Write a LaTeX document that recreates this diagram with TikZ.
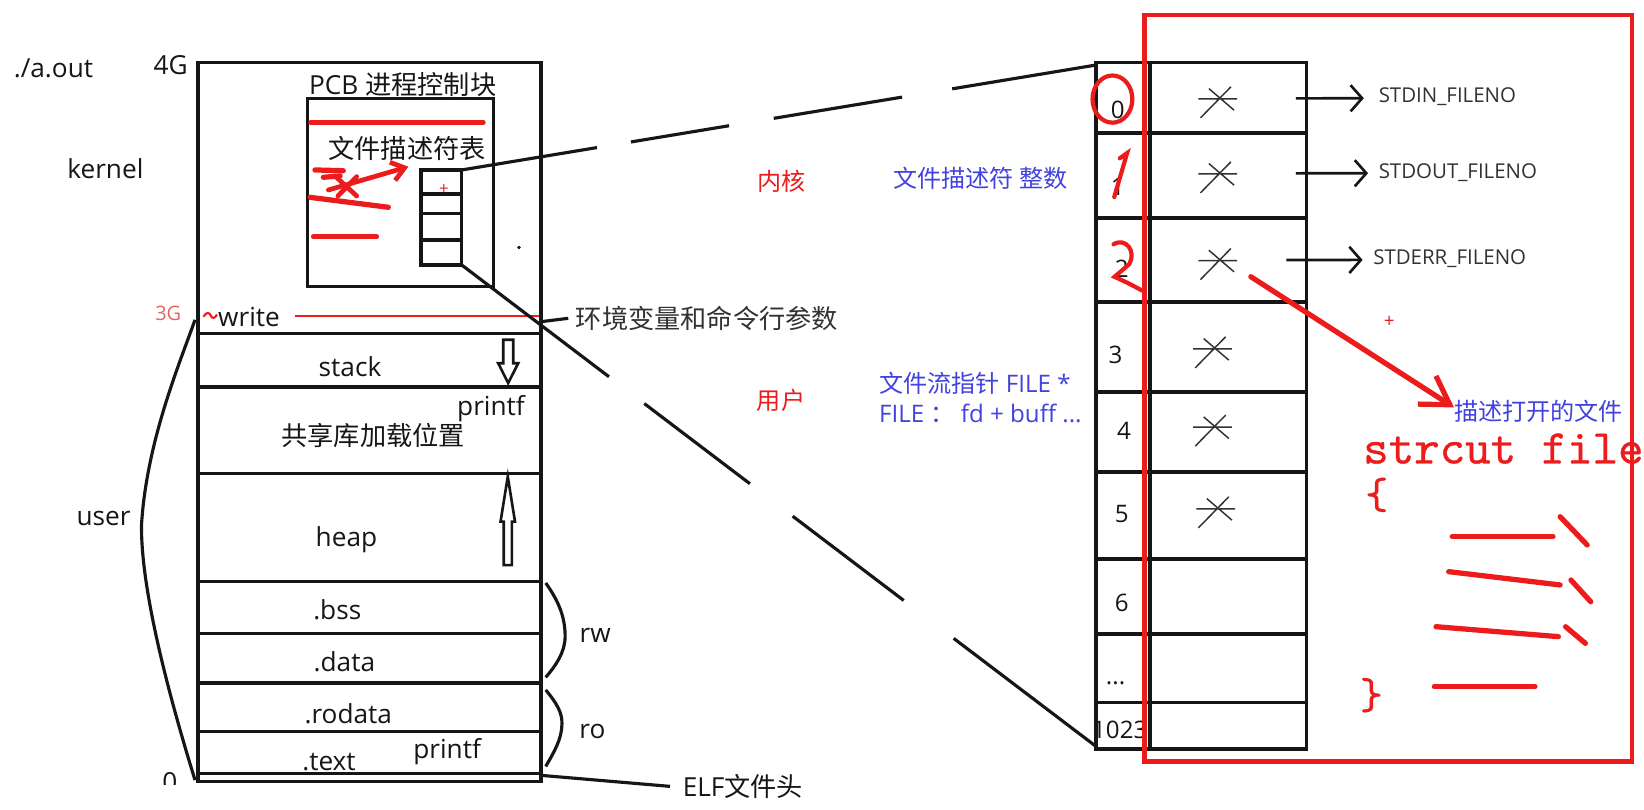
\documentclass[tikz,border=0pt]{standalone}
\usepackage{fontspec}
\setmainfont{Open Sans}
\newfontfamily\cjk{Noto Sans CJK SC}
\newfontfamily\mono[FakeBold=0.7]{lmmono10-regular.otf}
\usetikzlibrary{arrows.meta}
\definecolor{myred}{RGB}{236,28,28}
\definecolor{myblue}{RGB}{66,66,222}
\definecolor{lightred}{RGB}{228,100,100}
\definecolor{ink}{RGB}{22,22,22}
\definecolor{gray3}{RGB}{50,50,50}
\tikzset{
  lbl/.style={inner sep=0pt, text=ink, font=\fontsize{25}{28}\selectfont},
  clbl/.style={inner sep=0pt, text=ink, font=\cjk\fontsize{25}{28}\selectfont},
  ann/.style={inner sep=0pt, font=\fontsize{23}{26}\selectfont},
  cann/.style={inner sep=0pt, font=\cjk\fontsize{23}{26}\selectfont},
  stdlbl/.style={inner sep=0pt, text=gray3, font=\fontsize{19.5}{22}\selectfont, anchor=west},
  box/.style={draw=ink, line width=3.2pt},
  fdbox/.style={draw=ink, line width=3.6pt},
  conn/.style={draw=ink, line width=3pt},
  redline/.style={draw=myred, line width=5pt, line cap=round},
  stdarrow/.style={draw=ink, line width=2.5pt, -{Straight Barb[length=11pt,width=25pt]}},
  redarrow/.style={draw=myred, line width=5pt, line cap=round, -{Straight Barb[length=26pt,width=32pt]}},
  fdstar/.pic={\draw[line width=1.4pt, draw=gray3] (-19,0.5) -- (18,0.5) (-17,18.6) -- (12,-11) (-9,-9.3) -- (15,11.3);},
  hollow/.style={draw=ink, line width=2.5pt, fill=white}
}
\begin{document}
\begin{tikzpicture}[x=1pt,y=-1pt]
\useasboundingbox[fill=white] (0,0) rectangle (1568,772);

% ---------------- left: memory layout ----------------
\node[box, inner sep=0pt, outer sep=0pt, minimum width=327pt, minimum height=686pt, anchor=north west] (mem) at (189,59.5) {};
\foreach \yy in {318,369,451.5,554.5,604.5,651.5,697.5,737.6}
  \draw[box] (189,\yy) -- (516,\yy);

\node[lbl] (aout) at (51,65.2) {./a.out};
\node[lbl] (g4) at (162.8,62) {4G};
\node[lbl] (kernel) at (100.5,160.5) {kernel};
\node[inner sep=0pt, text=lightred, font=\fontsize{19}{22}\selectfont] (g3) at (160.5,299) {3G};
\node[lbl] (user) at (98.8,494.4) {user};
\begin{scope}
  \clip (140,725) rectangle (185,748);
  \node[lbl] (zero) at (162,746) {0};
\end{scope}

% user bracket curve
\draw[conn] (186,305) .. controls (172,345) and (140,420) .. (135,500) .. controls (134,560) and (160,660) .. (186,744);

% PCB
\node[lbl, anchor=west] (pcb) at (294.6,81) {PCB {\cjk 进程控制块}};
\draw[box] (293,93.8) rectangle (470.5,273.4);
\draw[redline, line width=4.5pt] (296.3,116.7) -- (461,116.7);
\node[clbl, anchor=west] (fdt) at (313,141.5) {文件描述符表};
% red scribble
\draw[redline] (300.4,162.1) -- (327.4,162.8);
\draw[redline] (308.4,169.1) -- (324.3,167.8);
\draw[redline, line width=4.5pt] (319.5,167.8) -- (340.2,186.9) (322.3,186.9) -- (340.2,168.5);
\draw[redline, line width=4.5pt, -{Straight Barb[length=12pt,width=18pt]}] (313.2,181.2) -- (389.5,159);
\draw[redline] (295.7,188.2) -- (370.4,197.7);
\draw[redline, line width=4.5pt] (298.8,225.7) -- (359.3,225.7);

% small fd table in PCB
\node[box, inner sep=0pt, outer sep=0pt, minimum width=38.8pt, minimum height=90.6pt, anchor=north west] (tbl) at (401.5,162.1) {};
\draw[box] (401.5,185) -- (440.3,185) (401.5,203.5) -- (440.3,203.5) (401.5,229) -- (440.3,229);
\node[inner sep=0pt, text=myred, font=\fontsize{16}{18}\selectfont] (plus1) at (423.5,181) {+};
\fill[ink] (495,236) circle (1.8pt);

% write / env line
\draw[myred, line width=2pt] (194,302) .. controls (197,297) and (200,298) .. (201,301) .. controls (202,304) and (205,304) .. (207,300);
\node[lbl] (write) at (237.5,302) {write};
\draw[myred, line width=2.5pt] (281,301.4) -- (514,301.4);
\node[clbl, anchor=west, text=gray3] (env) at (549,303.6) {环境变量和命令行参数};
\draw[conn] (516,306.8) -- ([xshift=-7pt]env.west);

% segments
\node[lbl] (stack) at (333.8,349.7) {stack};
\draw[hollow] (480,324) -- (489.5,324) -- (489.5,346.5) -- (494.2,346.5) -- (484.7,365.4) -- (475.2,346.5) -- (480,346.5) -- cycle;
\node[lbl] (printfa) at (468.3,389.4) {printf};
\node[clbl] (shlib) at (356,414.9) {共享库加载位置};
\node[lbl] (heap) at (330.4,515) {heap};
\draw[hollow] (484.3,454.6) -- (491.2,497.5) -- (488.2,497.5) -- (488.2,539) -- (480.4,539) -- (480.4,497.5) -- (477.4,497.5) -- cycle;
\node[lbl] (bss) at (321.7,581.8) {.bss};
\node[lbl] (data) at (328.5,631) {.data};
\node[lbl] (rodata) at (332.2,680.3) {.rodata};
\node[lbl] (text) at (313.8,726.4) {.text};
\node[lbl] (printfb) at (426.4,717) {printf};

% braces
\draw[conn] (520.5,556) .. controls (534,575) and (539,590) .. (539,607) .. controls (539,622) and (530,635) .. (520.5,646);
\draw[conn] (520.5,658) .. controls (532,672) and (536,680) .. (536,690) .. controls (536,705) and (528,718) .. (520.5,731);
\node[lbl] (rw) at (567.6,605.6) {rw};
\node[lbl] (ro) at (565,697.8) {ro};

% ELF header
\node[lbl, anchor=west] (elf) at (651,750) {ELF{\cjk 文件头}};
\coordinate (memcorner) at (516,739.5);
\draw[conn] (memcorner) -- ([xshift=-12pt]elf.west);

% middle annotations
\node[cann, text=myred] (neihe) at (745.8,173.3) {内核};
\node[cann, text=myblue, anchor=west] (fdint) at (852,170) {文件描述符 整数};
\node[cann, text=myred] (yonghu) at (744.9,381.5) {用户};
\node[ann, text=myblue, anchor=west] (fsp) at (838.3,365.6) {{\cjk 文件流指针} FILE *};
\node[ann, text=myblue, anchor=west] (fstruct) at (838.3,394.2) {FILE {\cjk ：}\ fd + buff ...};

% ---------------- right: fd table ----------------
\node[fdbox, inner sep=0pt, outer sep=0pt, minimum width=200.5pt, minimum height=654.5pt, anchor=north west] (fdtab) at (1045.5,59.5) {};
\draw[fdbox] (1096.8,59.5) -- (1096.8,714);
\foreach \yy in {127.2,208.2,288,373.5,450,533,605,670}
  \draw[fdbox] (1045.5,\yy) -- (1246,\yy);

\node[ann, text=ink] (n0) at (1066,105) {0};
\node[ann, text=ink] (n1) at (1066,178) {1};
\node[ann, text=ink] (n2) at (1070,256) {2};
\node[ann, text=ink] (n3) at (1064,338.6) {3};
\node[ann, text=ink] (n4) at (1072,411) {4};
\node[ann, text=ink] (n5) at (1070,490) {5};
\node[ann, text=ink] (n6) at (1070,575) {6};
\node[ann, text=ink] (ndots) at (1064,652) {...};
\node[ann, text=ink] (n1023) at (1068,696) {1023};

\foreach \px/\py in {1162/93.8,1162/165.3,1162/248,1157/332.2,1157/406.9,1160/484.8}
  \pic at (\px,\py) {fdstar};

% red marks on numbers
\draw[myred, line width=4pt] (1061,94.5) ellipse [x radius=19pt, y radius=22.5pt];
\draw[myred, line width=4pt, line cap=round] (1068,151) -- (1075,146) -- (1062.7,188);
\draw[myred, line width=4pt, line cap=round] (1062,233) .. controls (1074,226) and (1084,240) .. (1077,252) -- (1063,264) .. controls (1072,268) and (1080,272) .. (1089,277);

% connectors from the small table
\draw[conn, dash pattern=on 130.8pt off 32.9pt on 94.8pt off 43.2pt on 124.1pt off 48.4pt on 140pt off 40pt] (tbl.north east) -- ([yshift=-2.5pt]fdtab.north west);
\draw[conn, dash pattern=on 176.4pt off 42.3pt on 126.4pt off 51.2pt on 133pt off 59.9pt on 175pt off 40pt] (tbl.south east) -- ([yshift=2pt]fdtab.south west);

% std arrows
\node[stdlbl] (stdin) at (1314.8,92.2) {STDIN\_FILENO};
\node[stdlbl] (stdout) at (1314.8,164.7) {STDOUT\_FILENO};
\node[stdlbl] (stderr) at (1309.6,246.4) {STDERR\_FILENO};
\coordinate (c0) at (1236,93.8);
\coordinate (c1) at (1236,165.3);
\coordinate (c2) at (1227,248);
\draw[stdarrow] (c0) -- ([xshift=-14pt,yshift=-1.5pt]stdin.west);
\draw[stdarrow] (c1) -- ([xshift=-10pt,yshift=-0.5pt]stdout.west);
\draw[stdarrow] (c2) -- ([xshift=-10pt,yshift=-1.5pt]stderr.west);

% red frame
\draw[myred, line width=4.5pt] (1091.8,14.3) rectangle (1556.6,726.4);

% red arrow to open file description
\node[cann, text=myblue, anchor=west] (desc) at (1386.8,392.6) {描述打开的文件};
\coordinate (c2b) at (1193,263.9);
\draw[redarrow] (c2b) -- ([yshift=4pt]desc.west);
\node[inner sep=0pt, text=myred, font=\fontsize{18}{20}\selectfont] (plus2) at (1325,306.8) {+};

% struct file
\node[inner sep=0pt, anchor=base west, text=myred, font=\mono\fontsize{46.3}{50}\selectfont] (sfile) at (1300,442) {strcut file};
\node[inner sep=0pt, text=myred, font=\mono\fontsize{42}{44}\selectfont] (lbrace) at (1313,472) {\{};
\node[inner sep=0pt, text=myred, font=\mono\fontsize{42}{44}\selectfont] (rbrace) at (1308,663) {\}};
\draw[redline] (1385.1,511.8) -- (1481.2,511.8);
\draw[redline] (1488,492.8) -- (1513.8,519.8);
\draw[redline] (1381.7,545.2) -- (1488,557.9);
\draw[redline] (1498.3,553.2) -- (1517.2,573.9);
\draw[redline] (1369.6,597.7) -- (1486.3,607.2);
\draw[redline] (1493.2,597.7) -- (1512.1,613.6);
\draw[redline] (1368,654.9) -- (1464,654.9);
\end{tikzpicture}
\end{document}
